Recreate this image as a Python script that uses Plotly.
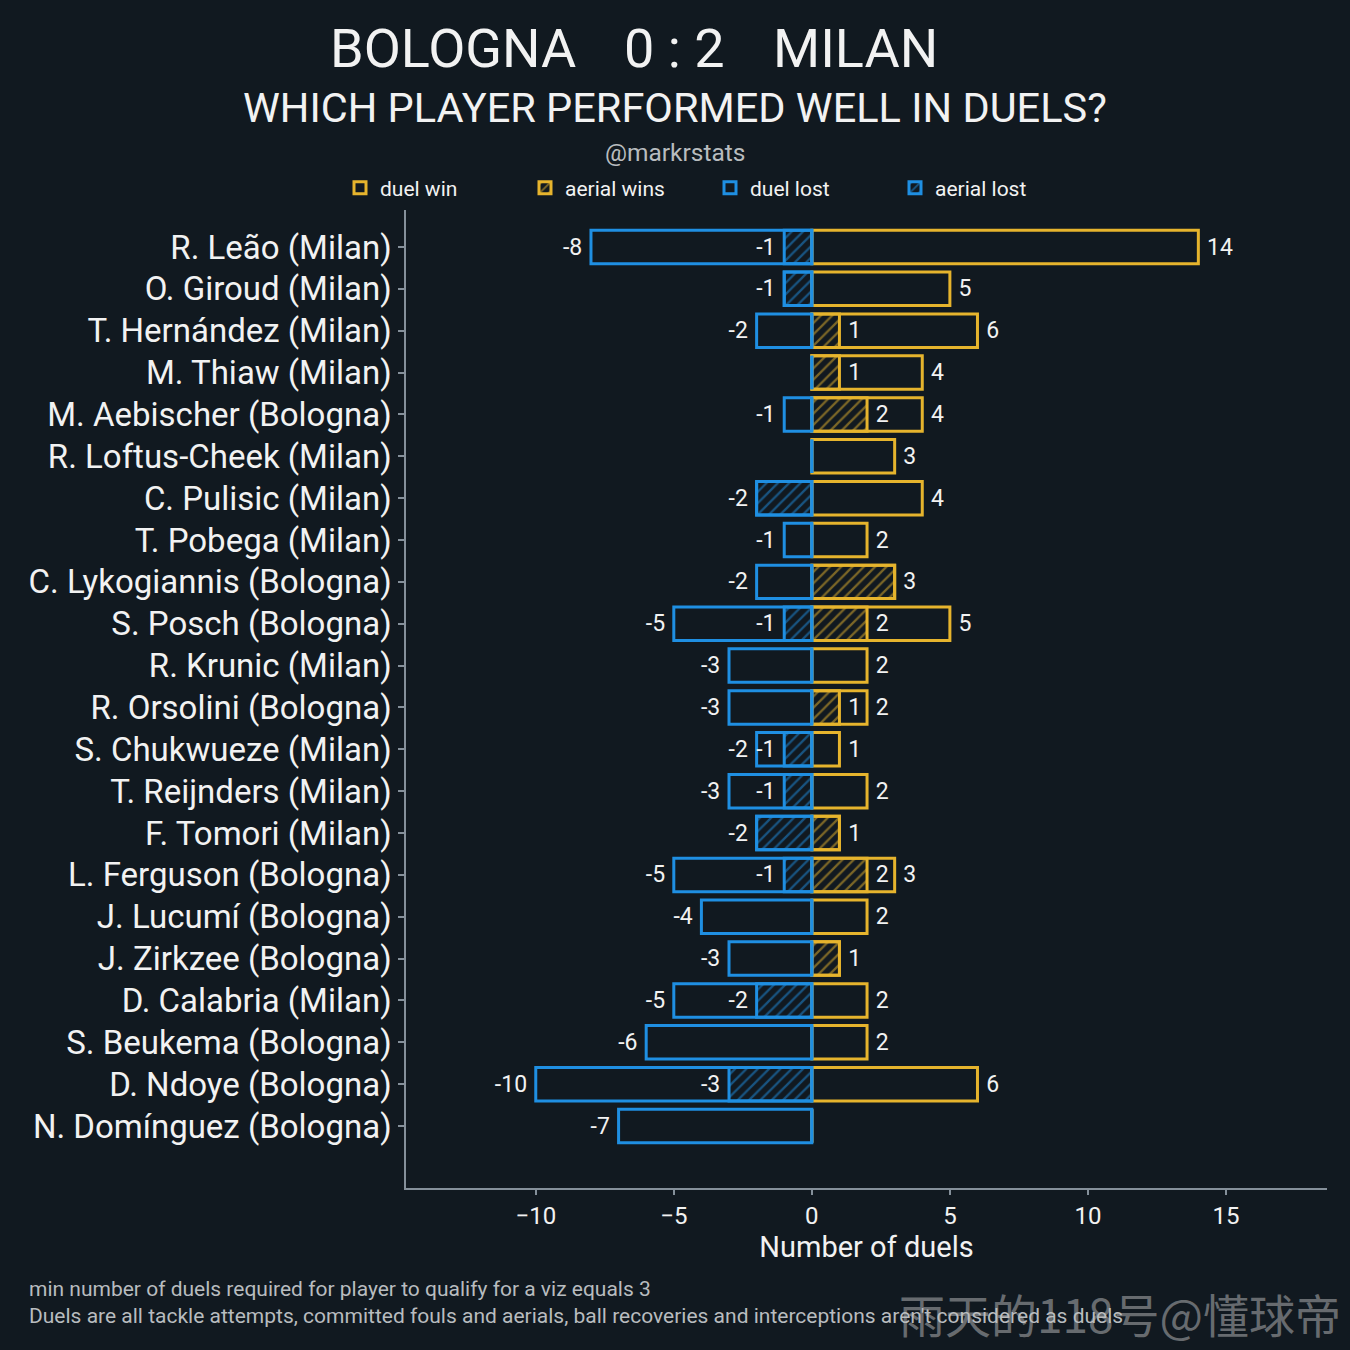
import plotly.graph_objects as go

players = [
    "R. Leão (Milan)", "O. Giroud (Milan)", "T. Hernández (Milan)", "M. Thiaw (Milan)",
    "M. Aebischer (Bologna)", "R. Loftus-Cheek (Milan)", "C. Pulisic (Milan)",
    "T. Pobega (Milan)", "C. Lykogiannis (Bologna)", "S. Posch (Bologna)",
    "R. Krunic (Milan)", "R. Orsolini (Bologna)", "S. Chukwueze (Milan)",
    "T. Reijnders (Milan)", "F. Tomori (Milan)", "L. Ferguson (Bologna)",
    "J. Lucumí (Bologna)", "J. Zirkzee (Bologna)", "D. Calabria (Milan)",
    "S. Beukema (Bologna)", "D. Ndoye (Bologna)", "N. Domínguez (Bologna)",
]
duel_win = [14, 5, 6, 4, 4, 3, 4, 2, 3, 5, 2, 2, 1, 2, 1, 3, 2, 1, 2, 2, 6, 0]
aerial_win = [0, 0, 1, 1, 2, 0, 0, 0, 3, 2, 0, 1, 0, 0, 1, 2, 0, 1, 0, 0, 0, 0]
duel_lost = [-8, -1, -2, 0, -1, 0, -2, -1, -2, -5, -3, -3, -2, -3, -2, -5, -4, -3, -5, -6, -10, -7]
aerial_lost = [-1, -1, 0, 0, 0, 0, -2, 0, 0, -1, 0, 0, -1, -1, -2, -1, 0, 0, -2, 0, -3, 0]

x_ticks = [-10, -5, 0, 5, 10, 15]

BG = "#111920"
YELLOW = "#e6b42d"
BLUE = "#1f8fe2"
TEXT = "#f2f2f2"
GREY = "#b8bcbf"
AXIS = "#85909a"
FONT = "Roboto"
PAD = "\u00a0"

# plot area in pixels
L, R, T, B = 406, 1327, 210, 1188
W, H = 1350, 1350


def px_x(px):
    return (px - L) / (R - L)


def px_y(py):
    return (B - py) / (B - T)


def fmt(v):
    return (PAD + str(v)) if v > 0 else (str(v) + PAD)


def total_labels(vals):
    return [fmt(v) if v != 0 else "" for v in vals]


def sub_labels(sub, tot):
    return [fmt(s) if (s != 0 and s != t) else "" for s, t in zip(sub, tot)]


fig = go.Figure()

common = dict(orientation="h", y=players, width=0.8, textposition="outside",
              cliponaxis=False, constraintext="none",
              textfont=dict(size=23, color=TEXT, family=FONT), hoverinfo="skip")


def hatch(color):
    return dict(shape="/", fgcolor=color, bgcolor="rgba(0,0,0,0)",
                size=8, solidity=0.28, fillmode="overlay")


fig.add_trace(go.Bar(
    x=duel_win, name="duel win", text=total_labels(duel_win),
    marker=dict(color="rgba(0,0,0,0)", line=dict(color=YELLOW, width=3)), **common))
fig.add_trace(go.Bar(
    x=aerial_win, name="aerial wins", text=sub_labels(aerial_win, duel_win),
    marker=dict(color="rgba(0,0,0,0)", line=dict(color=YELLOW, width=3),
                pattern=hatch(YELLOW)), **common))
fig.add_trace(go.Bar(
    x=duel_lost, name="duel lost", text=total_labels(duel_lost),
    marker=dict(color="rgba(0,0,0,0)", line=dict(color=BLUE, width=3)), **common))
fig.add_trace(go.Bar(
    x=aerial_lost, name="aerial lost", text=sub_labels(aerial_lost, duel_lost),
    marker=dict(color="rgba(0,0,0,0)", line=dict(color=BLUE, width=3),
                pattern=hatch(BLUE)), **common))

n = len(players)
fig.update_layout(
    width=W, height=H,
    paper_bgcolor=BG, plot_bgcolor=BG,
    barmode="overlay",
    margin=dict(l=L, r=W - R, t=T, b=H - B, autoexpand=False),
    font=dict(family=FONT, color=TEXT),
    showlegend=True,
    legend=dict(orientation="h", x=px_x(710), xanchor="center", y=px_y(188), yanchor="middle",
                font=dict(size=21, color=TEXT, family=FONT), bgcolor="rgba(0,0,0,0)",
                traceorder="normal", entrywidth=140, entrywidthmode="pixels"),
    xaxis=dict(range=[-14.7, 18.66], tickvals=x_ticks, showgrid=False, zeroline=False,
               showline=True, linecolor=AXIS, linewidth=1.5, ticks="outside", ticklen=5,
               tickcolor=AXIS, tickwidth=1.5, tickfont=dict(size=24, color=TEXT),
               title=dict(text="Number of duels", font=dict(size=29, color=TEXT), standoff=0)),
    yaxis=dict(type="category", categoryorder="array", categoryarray=players,
               range=[n - 1 + 1.48, -0.884], showgrid=False, zeroline=False,
               showline=True, linecolor=AXIS, linewidth=1.5, ticks="outside", ticklen=6,
               tickcolor=AXIS, tickwidth=1.5, tickfont=dict(size=33, color=TEXT)),
)

ann = [
    dict(text="BOLOGNA", x=px_x(578), xanchor="right", y=px_y(48), size=54, color=TEXT),
    dict(text="0 : 2", x=px_x(674), xanchor="center", y=px_y(48), size=54, color=TEXT),
    dict(text="MILAN", x=px_x(771), xanchor="left", y=px_y(48), size=54, color=TEXT),
    dict(text="WHICH PLAYER PERFORMED WELL IN DUELS?", x=px_x(675), xanchor="center",
         y=px_y(107), size=41.5, color=TEXT),
    dict(text="@markrstats", x=px_x(675), xanchor="center", y=px_y(153), size=24.5, color=GREY),
    dict(text="min number of duels required for player to qualify for a viz equals 3",
         x=px_x(27), xanchor="left", y=px_y(1289), size=21, color=GREY),
    dict(text="Duels are all tackle attempts, committed fouls and aerials, ball recoveries and interceptions aren't considered as duels",
         x=px_x(27), xanchor="left", y=px_y(1316), size=21, color=GREY),
]
for a in ann:
    fig.add_annotation(text=a["text"], x=a["x"], y=a["y"], xref="paper", yref="paper",
                       xanchor=a["xanchor"], yanchor="middle", showarrow=False,
                       font=dict(size=a["size"], color=a["color"], family=FONT))

fig.add_annotation(text="雨天的118号@懂球帝", x=px_x(1120), y=px_y(1313), xref="paper", yref="paper",
                   xanchor="center", yanchor="middle", showarrow=False,
                   font=dict(size=46, color="rgba(190,190,190,0.5)", family="Noto Sans CJK SC"))

fig.write_html("out.html", config={"displayModeBar": False},
               post_script="document.body.style.margin='0px';")
